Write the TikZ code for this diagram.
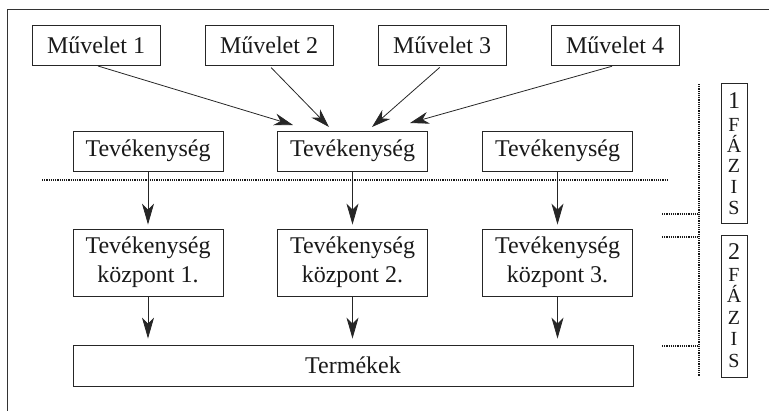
\documentclass[tikz,border=0pt]{standalone}
\usepackage{fontspec}
\setmainfont{Liberation Serif}
\usetikzlibrary{arrows.meta}
\begin{document}
\begin{tikzpicture}[x=1pt,y=-1pt,
  box/.style={draw=black!85, line width=0.8pt, inner sep=0pt, align=center,
    font=\fontsize{24}{29}\selectfont, text=black!90},
  arr/.style={draw=black!85, line width=0.8pt, -{Stealth[length=19pt,width=12pt,inset=6pt]}},
  varr/.style={draw=black!85, line width=0.8pt, -{Stealth[length=21pt,width=12pt,inset=6pt]}},
  dots/.style={draw=black!90, line width=1.2pt, dash pattern=on 1.1pt off 1.1pt},
  big/.style={font=\fontsize{24}{24}\selectfont, anchor=base, inner sep=0pt, text=black!90},
  small/.style={font=\fontsize{20}{20}\selectfont, anchor=base, inner sep=0pt, text=black!90}]
\useasboundingbox (0,0) rectangle (769,410);
% frame
\draw[draw=black!80, line width=0.9pt] (7,412) -- (7,9) -- (771,9);
% top row
\node[box, minimum width=128pt, minimum height=40pt] (m1) at (96,45) {Művelet 1};
\node[box, minimum width=128pt, minimum height=40pt] (m2) at (269,45) {Művelet 2};
\node[box, minimum width=128pt, minimum height=40pt] (m3) at (442,45) {Művelet 3};
\node[box, minimum width=128pt, minimum height=40pt] (m4) at (615,45) {Művelet 4};
% second row
\node[box, minimum width=150pt, minimum height=40pt] (t1) at (148,151) {Tevékenység};
\node[box, minimum width=150pt, minimum height=40pt] (t2) at (352.5,151) {Tevékenység};
\node[box, minimum width=150pt, minimum height=40pt] (t3) at (557.5,151) {Tevékenység};
% third row
\node[box, minimum width=150pt, minimum height=67pt] (k1) at (148,262.5) {Tevékenység\\központ 1.};
\node[box, minimum width=150pt, minimum height=67pt] (k2) at (352.5,262.5) {Tevékenység\\központ 2.};
\node[box, minimum width=150pt, minimum height=67pt] (k3) at (557.5,262.5) {Tevékenység\\központ 3.};
% products
\node[box, minimum width=560pt, minimum height=41pt] (p) at (353,365.5) {Termékek};
% arrow tips
\coordinate (a1) at (293,125);
\coordinate (a2) at (329,127);
\coordinate (a3) at (372,127);
\coordinate (a4) at (410,123);
\draw[arr, shorten <=2pt] (m1.south) -- (a1);
\draw[arr, shorten <=3pt] (m2.south) -- (a2);
\draw[arr, shorten <=3pt] (m3.south) -- (a3);
\draw[arr, shorten <=3pt] (m4.south) -- (a4);
\draw[varr, shorten >=4pt] (t1.south) -- (k1.north);
\draw[varr, shorten >=4pt] (t2.south) -- (k2.north);
\draw[varr, shorten >=4pt] (t3.south) -- (k3.north);
\draw[varr, shorten >=6pt] (k1.south) -- (k1.south |- p.north);
\draw[varr, shorten >=6pt] (k2.south) -- (k2.south |- p.north);
\draw[varr, shorten >=6pt] (k3.south) -- (k3.south |- p.north);
% dotted lines
\coordinate (h1) at (42,180);
\coordinate (h2) at (668,180);
\coordinate (v1) at (699,84);
\coordinate (v2) at (699,376);
\coordinate (s1) at (662,214);
\coordinate (s2) at (662,237);
\coordinate (s3) at (662,346);
\draw[dots] (h1) -- (h2);
\draw[dots] (v1) -- (v2);
\draw[dots] (s1) -- (s1 -| v1);
\draw[dots] (s2) -- (s2 -| v1);
\draw[dots] (s3) -- (s3 -| v1);
% phase boxes
\node[box, minimum width=26pt, minimum height=140pt] (f1) at (734,153) {};
\node[box, minimum width=26pt, minimum height=142pt] (f2) at (734,306) {};
\node[big] (f1n) at (734,108) {1};
\node[small] (f1a) at (734,131) {F};
\node[small] (f1b) at (734,152) {Á};
\node[small] (f1c) at (734,172) {Z};
\node[small] (f1d) at (734,193) {I};
\node[small] (f1e) at (734,214) {S};
\node[big] (f2n) at (734,259) {2};
\node[small] (f2a) at (734,281) {F};
\node[small] (f2b) at (734,302) {Á};
\node[small] (f2c) at (734,324) {Z};
\node[small] (f2d) at (734,345) {I};
\node[small] (f2e) at (734,367) {S};
\end{tikzpicture}
\end{document}
